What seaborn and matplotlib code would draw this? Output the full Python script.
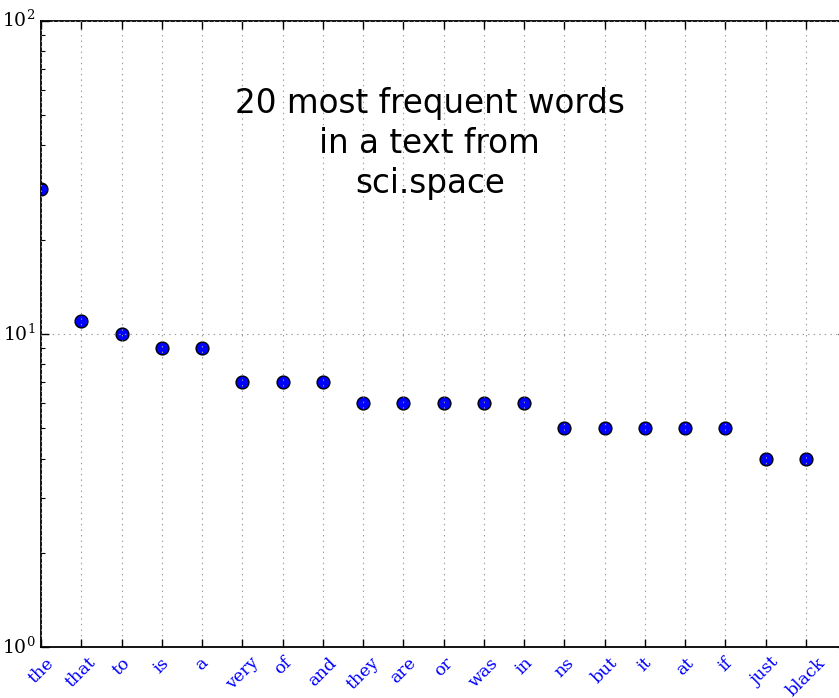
import numpy as np
import pandas as pd
import matplotlib
matplotlib.use('Agg')
import matplotlib.pyplot as plt
import seaborn as sns

# word counts
words = ['the', 'that', 'to', 'is', 'a', 'very', 'of', 'and', 'they', 'are',
         'or', 'was', 'in', 'ns', 'but', 'it', 'at', 'if', 'just', 'black']
counts = [29, 11, 10, 9, 9, 7, 7, 7, 6, 6, 6, 6, 6, 5, 5, 5, 5, 5, 4, 4]
title_text = '20 most frequent words\nin a text from\nsci.space'

df = pd.DataFrame({'word': words, 'count': counts})

plt.style.use('classic')
plt.rcParams['font.family'] = ['DejaVu Serif']
plt.rcParams['mathtext.fontset'] = 'dejavuserif'

fig = plt.figure(figsize=(8.39, 6.98), dpi=100, facecolor='white')
ax = fig.add_axes([41 / 839, 50.7 / 698, 805 / 839, 626.8 / 698])
ax.set_facecolor('white')

sns.scatterplot(data=df, x='word', y='count', ax=ax, marker='o', s=85,
                color='blue', edgecolor='black', linewidth=1.0, legend=False,
                zorder=2)

ax.set_yscale('log')
ax.set_ylim(1, 100)
ax.set_xlim(0, 20)
ax.set_xlabel('')
ax.set_ylabel('')

ax.set_axisbelow(False)
ax.grid(True, which='major', color='0.6', linestyle=':', linewidth=0.8)

ax.tick_params(which='major', direction='in', length=5.8, width=1,
               top=True, right=True)
ax.tick_params(which='minor', direction='in', length=2.9, width=0.8,
               left=True, right=True)
ax.tick_params(axis='x', which='minor', bottom=False, top=False)
ax.tick_params(axis='x', labelrotation=45, labelcolor='blue', labelsize=12.5, pad=5)
ax.tick_params(axis='y', labelsize=13.5, pad=4)
for lab in ax.get_xticklabels():
    lab.set_ha('center')

for side in ax.spines.values():
    side.set_linewidth(1.3)

ax.text(0.483, 0.803, title_text, transform=ax.transAxes, ha='center',
        va='center', fontsize=23.5, family='DejaVu Sans', linespacing=1.27)

fig.savefig('out.png', dpi=100, facecolor='white')
